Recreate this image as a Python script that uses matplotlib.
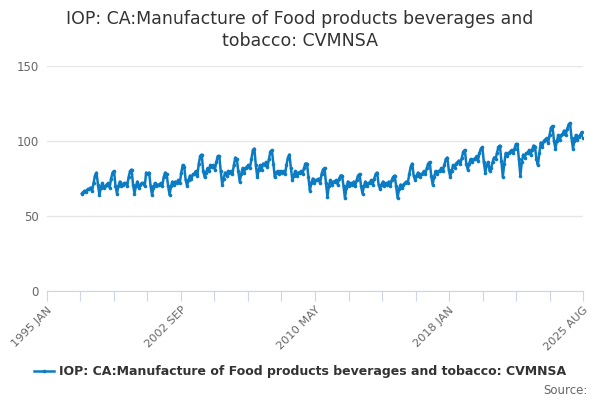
import numpy as np
import matplotlib
matplotlib.use("Agg")
import matplotlib.pyplot as plt

plt.rcParams['font.family'] = 'DejaVu Sans'

# monthly index values, Jan..Dec, 1997 JAN to 2025 AUG
v1997 = [65, 66, 67, 66, 68, 68, 69, 67, 72, 77, 79, 71]
v1998 = [64, 69, 72, 69, 70, 71, 72, 69, 75, 79, 80, 70]
v1999 = [65, 70, 73, 70, 71, 72, 72, 70, 76, 80, 81, 71]
v2000 = [65, 70, 73, 69, 71, 72, 72, 70, 79, 78, 79, 70]
v2001 = [64, 69, 72, 70, 71, 71, 72, 70, 76, 79, 78, 70]
v2002 = [64, 70, 73, 71, 73, 72, 74, 72, 79, 84, 83, 74]
v2003 = [70, 74, 77, 75, 78, 78, 80, 77, 85, 90, 91, 80]
v2004 = [76, 79, 82, 80, 84, 83, 84, 81, 86, 90, 90, 80]
v2005 = [71, 75, 79, 77, 80, 79, 80, 78, 84, 89, 88, 80]
v2006 = [73, 78, 82, 79, 82, 83, 84, 82, 88, 94, 95, 84]
v2007 = [76, 81, 84, 81, 85, 84, 86, 83, 88, 93, 94, 85]
v2008 = [76, 79, 80, 78, 80, 79, 80, 78, 84, 89, 91, 82]
v2009 = [74, 77, 80, 77, 79, 79, 80, 78, 82, 85, 85, 76]
v2010 = [67, 72, 75, 72, 74, 74, 75, 72, 78, 81, 82, 72]
v2011 = [63, 70, 74, 71, 73, 73, 74, 71, 75, 77, 77, 70]
v2012 = [62, 69, 73, 70, 72, 71, 73, 70, 74, 77, 78, 70]
v2013 = [65, 70, 73, 70, 72, 72, 74, 71, 75, 78, 79, 71]
v2014 = [68, 71, 73, 70, 72, 71, 73, 70, 74, 76, 77, 70]
v2015 = [62, 68, 71, 69, 71, 72, 73, 72, 78, 83, 85, 77]
v2016 = [74, 77, 79, 76, 78, 78, 80, 78, 82, 85, 86, 77]
v2017 = [71, 76, 80, 78, 80, 80, 82, 80, 84, 88, 89, 81]
v2018 = [76, 80, 84, 82, 85, 86, 87, 85, 89, 93, 94, 85]
v2019 = [81, 85, 88, 86, 88, 88, 90, 87, 92, 95, 96, 86]
v2020 = [79, 84, 86, 80, 82, 86, 89, 88, 92, 96, 97, 87]
v2021 = [76, 85, 92, 90, 92, 93, 94, 92, 95, 98, 98, 88]
v2022 = [77, 86, 91, 89, 92, 92, 94, 91, 94, 97, 96, 88]
v2023 = [84, 92, 99, 96, 100, 101, 102, 99, 104, 109, 110, 100]
v2024 = [95, 100, 104, 101, 104, 105, 107, 104, 108, 111, 112, 102]
v2025 = [95, 100, 104, 101, 103, 104, 106, 102]

values = (v1997 + v1998 + v1999 + v2000 + v2001 + v2002 + v2003 + v2004 + v2005
          + v2006 + v2007 + v2008 + v2009 + v2010 + v2011 + v2012 + v2013 + v2014
          + v2015 + v2016 + v2017 + v2018 + v2019 + v2020 + v2021 + v2022 + v2023
          + v2024 + v2025)

tick_labels = ['1995 JAN', '', '', '', '2002 SEP', '', '', '', '2010 MAY',
               '', '', '', '2018 JAN', '', '', '', '2025 AUG']

title = 'IOP: CA:Manufacture of Food products beverages and\ntobacco: CVMNSA'
series_name = 'IOP: CA:Manufacture of Food products beverages and tobacco: CVMNSA'

# months counted from 1995 JAN; series starts 1997 JAN
first_month = 24
last_month = 367
x = np.arange(first_month, first_month + len(values))

blue = '#0b7cc4'
fig = plt.figure(figsize=(6, 4), dpi=100)
ax = fig.add_axes([0.078, 0.2725, 0.894, 0.5625])

line, = ax.plot(x, values, color=blue, lw=1.8, marker='o', markersize=2.6,
                markeredgewidth=0, solid_joinstyle='round')

ax.set_xlim(0, last_month)
ax.set_ylim(0, 150)
ax.set_yticks([0, 50, 100, 150])
ax.grid(axis='y', color='#e6e6e6', lw=1)
ax.set_axisbelow(True)

ax.set_xticks(np.linspace(0, last_month, 17))
ax.set_xticklabels(tick_labels, rotation=45, ha='right', rotation_mode='anchor')

for s in ['top', 'right', 'left']:
    ax.spines[s].set_visible(False)
ax.spines['bottom'].set_color('#ccd6eb')
ax.tick_params(axis='x', length=7, color='#ccd6eb', labelsize=8.2,
               labelcolor='#666666', pad=3)
ax.tick_params(axis='y', length=0, labelsize=8.5, labelcolor='#666666', pad=6)

fig.suptitle(title, x=0.5, y=0.975, fontsize=12.5, color='#333333',
             linespacing=1.25)

fig.legend([line], [series_name], loc='center', bbox_to_anchor=(0.5, 0.07),
           frameon=False, prop={'weight': 'bold', 'size': 9},
           handlelength=1.6, handletextpad=0.4, labelcolor='#333333')

fig.text(0.98, 0.025, 'Source:', ha='right', va='center', fontsize=8.5,
         color='#666666')

fig.savefig('out.png', dpi=100)
